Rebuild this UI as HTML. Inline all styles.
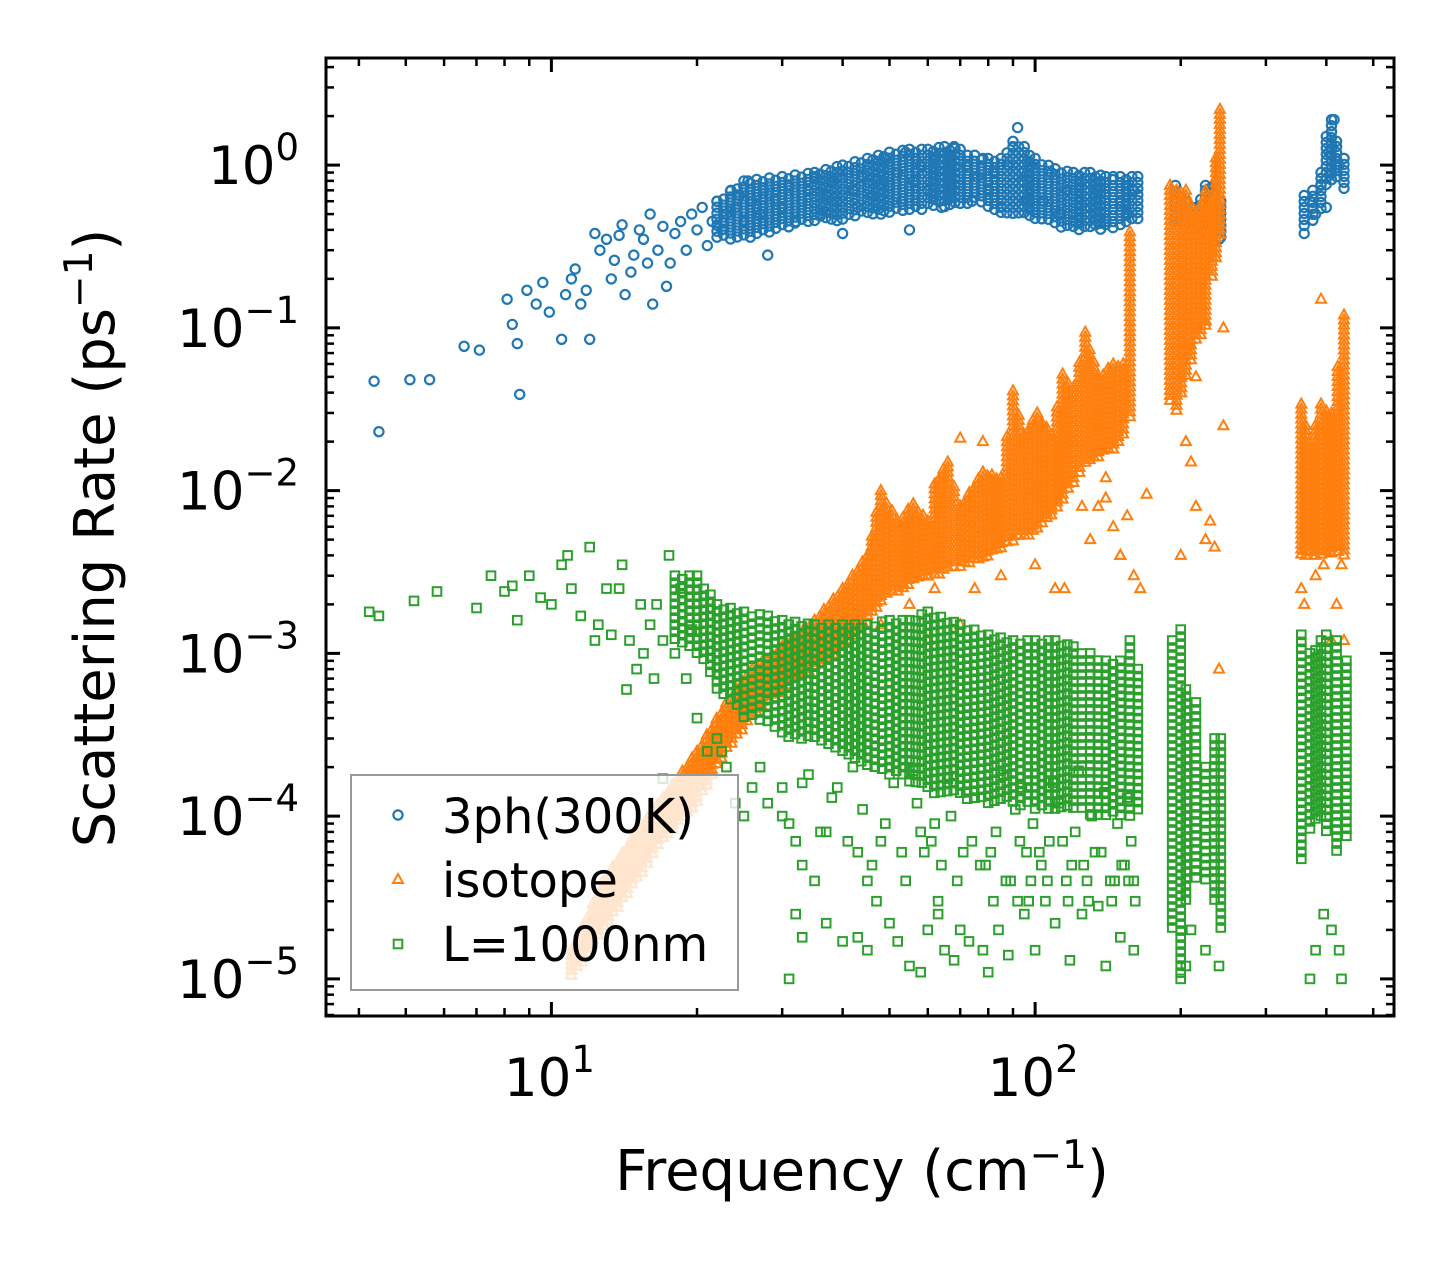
<!DOCTYPE html>
<html><head><meta charset="utf-8"><style>
html,body{margin:0;padding:0;background:#fff;}
body{position:relative;}
svg{display:block;font-family:"DejaVu Sans","Liberation Sans",sans-serif;}
</style></head><body>
<svg id="chart" width="1455" height="1265" viewBox="0 0 1455 1265" xmlns="http://www.w3.org/2000/svg">
<rect width="1455" height="1265" fill="#fff"/>
<g id="marks"></g>
<g id="axes"></g>
</svg>
<script>
// ---- data (frequency cm^-1, rate ps^-1) ----
const blueF=[4.3,4.4,5.1,5.6,6.6,7.1,8.1,8.3,8.5,8.6,8.9,9.3,9.6,9.9,10.5,10.7,11,11.2,11.5,11.8,12,12.3,12.6,13,13.3,13.5,13.8,14,14.2,14.6,14.8,15.2,15.5,15.8,16,16.2,16.6,17,17.3,17.6,18,18.5,19,19.5,20,20.5,21,21.5,22,22.5,23,23.5,24,24.5,25,25.5,26,27,27.5,28,29,30,31,32,33,34,35,36,37,38,39,40,41,42,43,44,45,46,47,48,49,50,52,53,54,55,56,58,60,62,64,66,68,70,72,74,76,78,80,82,85,88,90,92,94,96,98,100,104,108,112,116,120,125,130,135,140,145,150,155,160,200,205,210,215,220,225,230,235,240,360,370,380,390,400,405,410,415,420,425,435];
const blueR=[0.047,0.023,0.048,0.048,0.077,0.073,0.15,0.105,0.08,0.039,0.17,0.14,0.19,0.125,0.085,0.16,0.2,0.23,0.14,0.17,0.085,0.38,0.3,0.35,0.2,0.26,0.37,0.43,0.16,0.22,0.28,0.4,0.35,0.25,0.5,0.14,0.3,0.42,0.18,0.25,0.38,0.45,0.3,0.5,0.4,0.55,0.32,0.45,0.6,0.4,0.5,0.7,0.55,0.65,0.45,0.8,0.6,0.5,0.7,0.28,0.62,0.55,0.75,0.45,0.6,0.7,0.85,0.5,0.65,0.8,0.6,0.38,0.9,0.7,0.55,0.85,1.0,0.65,0.8,0.5,1.1,0.75,0.9,0.6,1.2,0.4,0.8,1.0,0.7,1.1,0.55,0.9,1.3,0.75,1.0,0.6,0.85,1.1,0.7,0.9,0.55,1.0,1.3,1.7,0.8,0.6,1.0,0.75,0.6,0.9,0.5,0.7,0.45,0.8,0.55,0.7,0.45,0.85,0.6,0.5,0.7,0.5,0.45,0.4,0.55,0.38,0.7,0.6,0.4,0.35,0.38,0.6,0.5,0.75,0.55,1.2,1.6,1.9,1.4,1.0,1.1,0.8];
const blueBandF=[22,25,30,35,40,45,50,55,60,65,70,75,80,85,90,95,100,110,120,130,140,150,163,195,205,215,225,235,242,360,375,390,400,410,420,435];
const blueBandLo=[0.35,0.35,0.4,0.45,0.45,0.5,0.5,0.5,0.55,0.55,0.55,0.6,0.55,0.5,0.5,0.5,0.45,0.42,0.4,0.4,0.4,0.42,0.45,0.45,0.45,0.4,0.45,0.35,0.35,0.4,0.45,0.5,0.7,0.8,0.8,0.7];
const blueBandHi=[0.6,0.8,0.85,0.9,1.0,1.1,1.2,1.25,1.25,1.3,1.25,1.15,1.1,1.1,1.4,1.3,1.1,0.95,0.9,0.9,0.85,0.85,0.85,0.75,0.6,0.55,0.75,0.75,0.6,0.65,0.7,0.9,1.5,1.9,1.3,1.1];
const blueBandSegLen=[23,6,7];

const orangeF=[48,55,60,62,70,75,78,85,100,110,115,120,125,130,140,150,155,160,165,200,205,210,215,225,230,235,240,245,355,360,380,395,410,420,430,435,100,170,70,215,208,390,215,225,245,145,150,135,140];
const orangeR=[0.0015,0.002,0.0012,0.0025,0.0015,0.0025,0.02,0.003,0.0035,0.0025,0.0025,0.02,0.008,0.005,0.009,0.004,0.007,0.003,0.0025,0.004,0.02,0.015,0.008,0.005,0.0065,0.0045,0.0008,0.025,0.0025,0.002,0.003,0.0035,0.0012,0.002,0.0035,0.0012,0.01,0.0095,0.021,0.1,0.08,0.15,0.05,0.11,0.1,0.006,0.004,0.008,0.012];
const orangeBandF=[11,12.8,15,17,20,23,26,30,35,40,45,48,52,56,60,62,66,70,78,85,90,95,101,108,114,120,127,135,145,152,157,190,196,205,215,225,232,241,355,370,390,410,435];
const orangeBandLo=[1e-5,2e-5,4e-5,7e-5,1.2e-4,2.5e-4,4e-4,6e-4,8e-4,1.1e-3,1.6e-3,2.1e-3,2.4e-3,2.7e-3,2.9e-3,3e-3,3.2e-3,3.4e-3,3.8e-3,4.3e-3,4.8e-3,5.2e-3,5.6e-3,7e-3,8.7e-3,1.1e-2,1.4e-2,1.6e-2,1.8e-2,2.2e-2,2.8e-2,0.035,0.03,0.05,0.08,0.1,0.2,0.35,0.004,0.004,0.004,0.004,0.004];
const orangeBandHi=[1.5e-5,4e-5,8e-5,1.3e-4,2.5e-4,5e-4,8e-4,1.1e-3,1.6e-3,2.5e-3,4e-3,1e-2,6.5e-3,8.3e-3,6.5e-3,1.1e-2,1.5e-2,8e-3,1.3e-2,1.2e-2,4.1e-2,2.2e-2,3e-2,2.2e-2,5.2e-2,4.3e-2,9.4e-2,5e-2,6e-2,6e-2,0.39,0.75,0.7,0.7,0.5,0.7,0.6,2.2,0.034,0.02,0.034,0.03,0.12];
const orangeBandSegLen=[31,7,5];

const greenF=[4.2,4.4,5.2,5.8,7,7.5,8,8.3,8.5,9,9.5,10,10.5,10.8,11,11.5,12,12.3,12.5,13,13.3,13.8,14,14.3,14.5,15,15.3,15.5,16,16.3,16.5,17,17.5,18,18.5,19,19.5,20,21,22,22.5,23,24,25,26,17,30,31,32,33,32,33,31,35,37,40,43,45,47,50,52,55,58,60,63,65,68,70,73,78,80,84,88,92,95,100,105,110,118,125,135,140,150,160,200,205,210,225,240,370,380,395,410,425,430,
 28,30,33,36,38,41,44,46,49,53,57,61,64,67,71,75,79,83,87,91,96,99,103,107,112,116,121,126,131,137,143,148,153,158,27,34,39,42,51,56,66,72,86,94,109,123,139,155,
 45,48,54,59,62,69,74,77,81,89,93,98,102,106,114,119,128,133,146,151,156,161,37,43,58,63,82,97,117,129,144,160];
const greenR=[0.0018,0.0017,0.0021,0.0024,0.0019,0.003,0.0024,0.0026,0.0016,0.003,0.0022,0.002,0.0035,0.004,0.0025,0.0017,0.0045,0.0012,0.0015,0.0025,0.0013,0.0025,0.0035,0.0006,0.0012,0.0008,0.002,0.001,0.0015,0.0007,0.002,0.0012,0.004,0.001,0.0025,0.0007,0.0014,0.0004,0.00025,0.0003,0.00025,0.0002,0.00012,0.0001,0.00015,0.00017,0.00015,0.00009,0.00007,0.00005,0.000025,0.000018,0.00001,0.00004,0.000022,0.000017,0.000018,0.000015,0.00003,0.000022,0.000017,0.000012,0.000011,0.00002,0.000025,0.000015,0.000013,0.00002,0.000017,0.000015,0.000011,0.00002,0.000014,0.00003,0.000025,0.000015,0.00003,0.000022,0.000013,0.000025,0.000028,0.000012,0.000018,0.000015,0.00001,0.000012,0.00002,0.000015,0.000012,0.00001,0.000015,0.000025,0.00002,0.000015,0.00001,
 0.00012,0.0001,0.00016,0.00008,0.00013,0.00007,0.00011,0.00005,0.00009,0.00006,0.00012,0.00007,0.00005,0.0001,0.00006,0.00013,0.00005,0.00008,0.00004,0.00011,0.00006,0.00009,0.00005,0.00007,0.00012,0.00004,0.00008,0.00005,0.0001,0.00006,0.00004,0.00009,0.00005,0.00007,0.0002,0.00018,0.00015,0.0002,0.00016,0.00019,0.00017,0.00014,0.00018,0.00015,0.00016,0.00019,0.00014,0.00013,
 0.00004,0.00007,0.00004,0.00006,0.00009,0.00004,0.00007,0.00005,0.00006,0.00004,0.00007,0.00004,0.00006,0.00004,0.00007,0.00005,0.00004,0.00006,0.00004,0.00005,0.00004,0.00003,0.00008,0.00006,0.00008,0.00003,0.00003,0.00003,0.00003,0.00003,0.00003,0.00004];
const greenBandF=[18,20,22,25,28,30,35,40,45,50,55,60,70,80,90,100,110,120,130,140,150,157,163,192,200,205,215,225,235,242,355,370,390,400,420,440];
const greenBandLo=[0.0012,0.001,0.0006,0.0004,0.00035,0.0003,0.00028,0.00025,0.0002,0.00018,0.00016,0.00014,0.00013,0.00012,0.00012,0.00011,0.00011,0.00011,0.0001,0.0001,0.0001,0.0001,0.0001,0.00002,0.00001,0.00003,0.00004,0.00004,0.00003,0.00002,0.00005,0.00008,0.0001,0.00008,0.00006,0.00007];
const greenBandHi=[0.003,0.003,0.002,0.0018,0.0017,0.0016,0.0015,0.0015,0.0015,0.0016,0.0016,0.0018,0.0015,0.0013,0.0012,0.0012,0.0012,0.0011,0.001,0.0009,0.0009,0.0012,0.0008,0.0012,0.0014,0.0006,0.0005,0.0002,0.0003,0.0003,0.0013,0.001,0.0012,0.0013,0.0012,0.0009];
const greenBandSegLen=[23,7,6];

const yTickVals=[0,-1,-2,-3,-4,-5];
const xTickVals=[1,2];

// ---- axes ----
const L=326,R=1394,T=58,B=1016;
const XMIN=Math.log10(3.42),XMAX=Math.log10(552);
const YMIN=-5.228,YMAX=0.658;
const xs=v=>L+(Math.log10(v)-XMIN)/(XMAX-XMIN)*(R-L);
const ys=v=>B-(Math.log10(v)-YMIN)/(YMAX-YMIN)*(B-T);
const NS="http://www.w3.org/2000/svg";
function mk(tag,attrs,parent){const e=document.createElementNS(NS,tag);for(const k in attrs)e.setAttribute(k,attrs[k]);parent.appendChild(e);return e;}
const C={blue:"#1f77b4",orange:"#ff7f0e",green:"#2ca02c"};
const marks=document.getElementById('marks');
function marker(type,x,y,g){
  let e;
  if(type==='blue'){e=mk('circle',{cx:x.toFixed(1),cy:y.toFixed(1),r:4.6,fill:'none',stroke:C.blue,'stroke-width':2.2},g);}
  else if(type==='orange'){e=mk('path',{d:`M${(x).toFixed(1)} ${(y-5.5).toFixed(1)}L${(x+5).toFixed(1)} ${(y+3.5).toFixed(1)}L${(x-5).toFixed(1)} ${(y+3.5).toFixed(1)}Z`,fill:'none',stroke:C.orange,'stroke-width':2},g);}
  else {e=mk('rect',{x:(x-4.3).toFixed(1),y:(y-4.3).toFixed(1),width:8.6,height:8.6,fill:'none',stroke:C.green,'stroke-width':2},g);}
  return e;
}
function column(type,x,hi,lo,step,off,g){
  for(let y=hi+off;y<=lo;y+=step){
    const m=marker(type,x,y,g);
    
    
  }
}
function drawBand(type,F,Lo,Hi,SegLen,g,step){
  let start=0;
  SegLen.forEach(len=>{
    const end=start+len-1;
    for(let i=start;i<end;i++){
      const x0=xs(F[i]),x1=xs(F[i+1]);
      const n=Math.max(1,Math.round((x1-x0)/step));
      for(let k=0;k<n;k++){
        const t=k/n;const x=x0+(x1-x0)*t;
        const lo=ys(Lo[i])+(ys(Lo[i+1])-ys(Lo[i]))*t;
        const hi=ys(Hi[i])+(ys(Hi[i+1])-ys(Hi[i]))*t;
        column(type,x,hi,lo,step,(k%2)*step/2,g);
      }
    }
    column(type,xs(F[end]),ys(Hi[end]),ys(Lo[end]),step,0,g);
    start+=len;
  });
}
function drawSeries(type,F,Rv,g){
  for(let i=0;i<F.length;i++){
    const m=marker(type,xs(F[i]),ys(Rv[i]),g);
    
    
  }
}
const gb=mk('g',{},marks);
drawBand('blue',blueBandF,blueBandLo,blueBandHi,blueBandSegLen,gb,6);drawSeries('blue',blueF,blueR,gb);
const go=mk('g',{},marks);
drawBand('orange',orangeBandF,orangeBandLo,orangeBandHi,orangeBandSegLen,go,5);drawSeries('orange',orangeF,orangeR,go);
const gg=mk('g',{},marks);
drawBand('green',greenBandF,greenBandLo,greenBandHi,greenBandSegLen,gg,7);drawSeries('green',greenF,greenR,gg);

const axes=document.getElementById('axes');
for(let d=-6;d<=1;d++){
  for(let m=1;m<=9;m++){
    const v=m*Math.pow(10,d);const y=ys(v);
    if(y<T+1||y>B-1)continue;
    const len=m===1?14:8;
    const a=mk('line',{x1:L,x2:L+len,y1:y,y2:y,stroke:'#000','stroke-width':m===1?3:2.5},axes);
    
    const b=mk('line',{x1:R,x2:R-len,y1:y,y2:y,stroke:'#000','stroke-width':m===1?3:2.5},axes);
    
  }
}
for(let d=0;d<=3;d++){
  for(let m=1;m<=9;m++){
    const v=m*Math.pow(10,d);const x=xs(v);
    if(x<L+1||x>R-1)continue;
    const len=m===1?14:8;
    const a=mk('line',{x1:x,x2:x,y1:B,y2:B-len,stroke:'#000','stroke-width':m===1?3:2.5},axes);
    
    const b=mk('line',{x1:x,x2:x,y1:T,y2:T+len,stroke:'#000','stroke-width':m===1?3:2.5},axes);
    
  }
}
const frame=mk('rect',{x:L,y:T,width:R-L,height:B-T,fill:'none',stroke:'#000','stroke-width':3},axes);

yTickVals.forEach(p=>{
  const t=mk('text',{x:299,y:ys(Math.pow(10,p))+19,'text-anchor':'end','font-size':53},axes);
  
  t.innerHTML='10<tspan dy="-24" font-size="37">'+(p<0?'\u2212'+(-p):p)+'</tspan>';
});
xTickVals.forEach(p=>{
  const t=mk('text',{x:xs(Math.pow(10,p))-2,y:1096,'text-anchor':'middle','font-size':53},axes);
  
  t.innerHTML='10<tspan dy="-24" font-size="37">'+p+'</tspan>';
});
</script>
<svg style="position:absolute;left:0;top:0" width="1455" height="1265">
<text x="862" y="1190" text-anchor="middle" font-size="56" font-family="DejaVu Sans, Liberation Sans, sans-serif">Frequency (cm<tspan dy="-22" font-size="39">−1</tspan><tspan dy="22">)</tspan></text>
<text transform="translate(114,538) rotate(-90)" text-anchor="middle" font-size="56" font-family="DejaVu Sans, Liberation Sans, sans-serif">Scattering Rate (ps<tspan dy="-22" font-size="39">−1</tspan><tspan dy="22">)</tspan></text>
<g>
<rect x="351" y="775" width="387" height="215" fill="rgba(255,255,255,0.8)" stroke="#999" stroke-width="2"/>
<g><circle cx="398" cy="815" r="4.6" fill="none" stroke="#1f77b4" stroke-width="2.2"/><text x="442" y="833" font-size="48" font-family="DejaVu Sans, Liberation Sans, sans-serif">3ph(300K)</text></g>
<g><path d="M398 874L403 883L393 883Z" fill="none" stroke="#ff7f0e" stroke-width="2"/><text x="442" y="897" font-size="48" font-family="DejaVu Sans, Liberation Sans, sans-serif">isotope</text></g>
<g><rect x="393.7" y="939.7" width="8.6" height="8.6" fill="none" stroke="#2ca02c" stroke-width="2"/><text x="442" y="961" font-size="48" font-family="DejaVu Sans, Liberation Sans, sans-serif">L=1000nm</text></g>
</g>
</svg>
</body></html>
